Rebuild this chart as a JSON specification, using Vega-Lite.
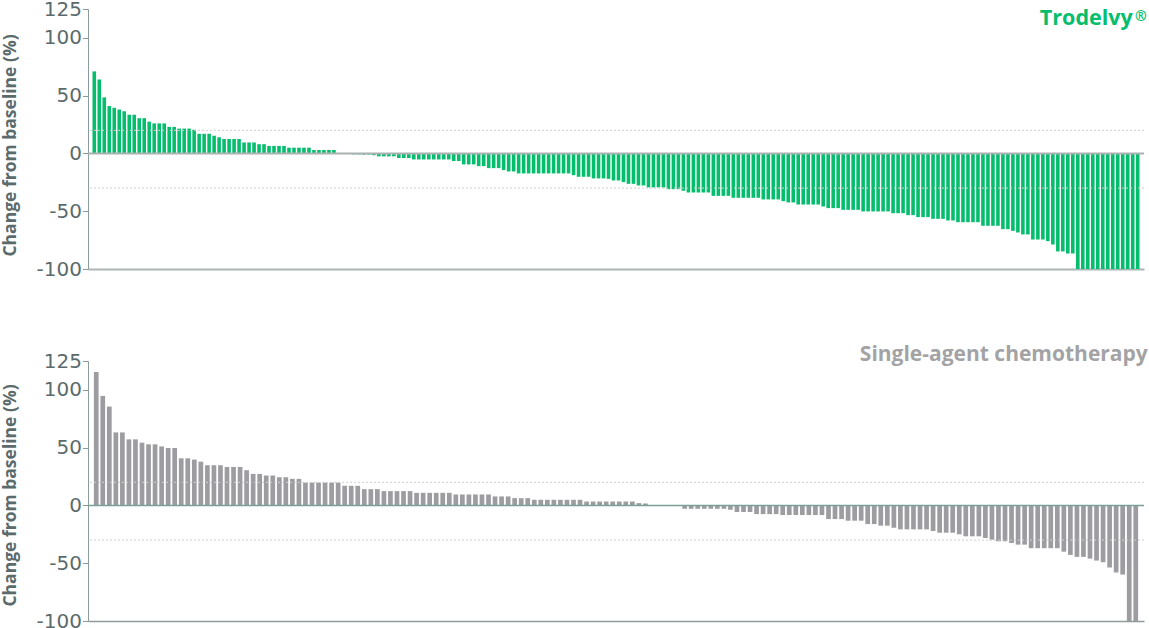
{
  "$schema": "https://vega.github.io/schema/vega-lite/v6.json",
  "padding": {"left": 0, "top": -1, "right": 0, "bottom": 0},
  "background": "white",
  "bounds": "flush",
  "spacing": 92,
  "config": {"view": {"stroke": null}, "font": "Open Sans"},
  "datasets": {
    "trodelvy": [
      {"i":1,"pct":71},{"i":2,"pct":64},{"i":3,"pct":48.5},{"i":4,"pct":41},{"i":5,"pct":39.5},{"i":6,"pct":38},{"i":7,"pct":36.5},{"i":8,"pct":33.5},{"i":9,"pct":33.5},{"i":10,"pct":30.5},
      {"i":11,"pct":30.5},{"i":12,"pct":27.5},{"i":13,"pct":26},{"i":14,"pct":26},{"i":15,"pct":26},{"i":16,"pct":23},{"i":17,"pct":23},{"i":18,"pct":21.5},{"i":19,"pct":21.5},{"i":20,"pct":21.5},
      {"i":21,"pct":20.5},{"i":22,"pct":17},{"i":23,"pct":17},{"i":24,"pct":17},{"i":25,"pct":15.3},{"i":26,"pct":14},{"i":27,"pct":12.5},{"i":28,"pct":12.5},{"i":29,"pct":12.5},{"i":30,"pct":12.5},
      {"i":31,"pct":9.5},{"i":32,"pct":9.5},{"i":33,"pct":9.5},{"i":34,"pct":8},{"i":35,"pct":8},{"i":36,"pct":6.5},{"i":37,"pct":6.5},{"i":38,"pct":6.5},{"i":39,"pct":6.5},{"i":40,"pct":5},
      {"i":41,"pct":5},{"i":42,"pct":5},{"i":43,"pct":5},{"i":44,"pct":5},{"i":45,"pct":3},{"i":46,"pct":3},{"i":47,"pct":3},{"i":48,"pct":3},{"i":49,"pct":3},{"i":50,"pct":0},
      {"i":51,"pct":0},{"i":52,"pct":0},{"i":53,"pct":-0.8},{"i":54,"pct":-0.8},{"i":55,"pct":-1},{"i":56,"pct":-1},{"i":57,"pct":-1.5},{"i":58,"pct":-2.5},{"i":59,"pct":-2.5},{"i":60,"pct":-2.5},
      {"i":61,"pct":-2.5},{"i":62,"pct":-4},{"i":63,"pct":-4},{"i":64,"pct":-4},{"i":65,"pct":-5.2},{"i":66,"pct":-5.2},{"i":67,"pct":-5.2},{"i":68,"pct":-5.2},{"i":69,"pct":-5.2},{"i":70,"pct":-5.2},
      {"i":71,"pct":-5.2},{"i":72,"pct":-5.2},{"i":73,"pct":-6.6},{"i":74,"pct":-6.6},{"i":75,"pct":-9.5},{"i":76,"pct":-9.5},{"i":77,"pct":-9.5},{"i":78,"pct":-11},{"i":79,"pct":-11},{"i":80,"pct":-12.7},
      {"i":81,"pct":-12.7},{"i":82,"pct":-12.7},{"i":83,"pct":-14.4},{"i":84,"pct":-15.6},{"i":85,"pct":-15.6},{"i":86,"pct":-17.3},{"i":87,"pct":-17.3},{"i":88,"pct":-17.3},{"i":89,"pct":-17.3},{"i":90,"pct":-17.3},
      {"i":91,"pct":-17.3},{"i":92,"pct":-17.3},{"i":93,"pct":-17.3},{"i":94,"pct":-17.3},{"i":95,"pct":-17.3},{"i":96,"pct":-17.3},{"i":97,"pct":-18.8},{"i":98,"pct":-20.2},{"i":99,"pct":-20.2},{"i":100,"pct":-20.2},
      {"i":101,"pct":-21.6},{"i":102,"pct":-21.6},{"i":103,"pct":-21.6},{"i":104,"pct":-22},{"i":105,"pct":-23.4},{"i":106,"pct":-23.4},{"i":107,"pct":-24.8},{"i":108,"pct":-26.3},{"i":109,"pct":-26.3},{"i":110,"pct":-27.7},
      {"i":111,"pct":-27.7},{"i":112,"pct":-29.4},{"i":113,"pct":-29.4},{"i":114,"pct":-29.4},{"i":115,"pct":-29.4},{"i":116,"pct":-30.9},{"i":117,"pct":-30.9},{"i":118,"pct":-30.9},{"i":119,"pct":-32.3},{"i":120,"pct":-33.8},
      {"i":121,"pct":-33.8},{"i":122,"pct":-33.8},{"i":123,"pct":-33.8},{"i":124,"pct":-33.8},{"i":125,"pct":-36.7},{"i":126,"pct":-36.7},{"i":127,"pct":-36.7},{"i":128,"pct":-36.7},{"i":129,"pct":-38.4},{"i":130,"pct":-38.4},
      {"i":131,"pct":-38.4},{"i":132,"pct":-38.4},{"i":133,"pct":-38.4},{"i":134,"pct":-38.4},{"i":135,"pct":-39.8},{"i":136,"pct":-39.8},{"i":137,"pct":-39.8},{"i":138,"pct":-39.8},{"i":139,"pct":-41.3},{"i":140,"pct":-42.4},
      {"i":141,"pct":-42.4},{"i":142,"pct":-44.2},{"i":143,"pct":-44.2},{"i":144,"pct":-44.2},{"i":145,"pct":-44.2},{"i":146,"pct":-44.2},{"i":147,"pct":-45.9},{"i":148,"pct":-47.3},{"i":149,"pct":-47.3},{"i":150,"pct":-47.3},
      {"i":151,"pct":-48.8},{"i":152,"pct":-48.8},{"i":153,"pct":-48.8},{"i":154,"pct":-48.8},{"i":155,"pct":-50.2},{"i":156,"pct":-50.2},{"i":157,"pct":-50.2},{"i":158,"pct":-50.2},{"i":159,"pct":-50.2},{"i":160,"pct":-50.2},
      {"i":161,"pct":-51.7},{"i":162,"pct":-51.7},{"i":163,"pct":-51.7},{"i":164,"pct":-53.4},{"i":165,"pct":-53.4},{"i":166,"pct":-55.1},{"i":167,"pct":-55.1},{"i":168,"pct":-55.1},{"i":169,"pct":-56.6},{"i":170,"pct":-56.6},
      {"i":171,"pct":-56.6},{"i":172,"pct":-58},{"i":173,"pct":-58},{"i":174,"pct":-59.5},{"i":175,"pct":-59.5},{"i":176,"pct":-59.5},{"i":177,"pct":-59.5},{"i":178,"pct":-59.5},{"i":179,"pct":-62.6},{"i":180,"pct":-62.6},
      {"i":181,"pct":-62.6},{"i":182,"pct":-62.6},{"i":183,"pct":-65.5},{"i":184,"pct":-65.5},{"i":185,"pct":-67},{"i":186,"pct":-68.4},{"i":187,"pct":-70.1},{"i":188,"pct":-70.1},{"i":189,"pct":-74.5},{"i":190,"pct":-74.5},
      {"i":191,"pct":-74.5},{"i":192,"pct":-75.9},{"i":193,"pct":-78.8},{"i":194,"pct":-84.8},{"i":195,"pct":-84.8},{"i":196,"pct":-86.6},{"i":197,"pct":-86.6},{"i":198,"pct":-100},{"i":199,"pct":-100},{"i":200,"pct":-100},
      {"i":201,"pct":-100},{"i":202,"pct":-100},{"i":203,"pct":-100},{"i":204,"pct":-100},{"i":205,"pct":-100},{"i":206,"pct":-100},{"i":207,"pct":-100},{"i":208,"pct":-100},{"i":209,"pct":-100},{"i":210,"pct":-100}
    ],
    "chemo": [
      {"i":1,"pct":115.5},{"i":2,"pct":94.8},{"i":3,"pct":85.6},{"i":4,"pct":63.2},{"i":5,"pct":63.2},{"i":6,"pct":57.2},{"i":7,"pct":57.2},{"i":8,"pct":54.3},{"i":9,"pct":52.9},{"i":10,"pct":52.9},
      {"i":11,"pct":51.1},{"i":12,"pct":49.7},{"i":13,"pct":49.7},{"i":14,"pct":40.8},{"i":15,"pct":40.8},{"i":16,"pct":39.7},{"i":17,"pct":37.9},{"i":18,"pct":34.8},{"i":19,"pct":34.8},{"i":20,"pct":34.8},
      {"i":21,"pct":33.3},{"i":22,"pct":33.3},{"i":23,"pct":33.3},{"i":24,"pct":30.5},{"i":25,"pct":27.3},{"i":26,"pct":27.3},{"i":27,"pct":25.9},{"i":28,"pct":25.9},{"i":29,"pct":24.4},{"i":30,"pct":24.4},
      {"i":31,"pct":23},{"i":32,"pct":23},{"i":33,"pct":19.8},{"i":34,"pct":19.8},{"i":35,"pct":19.8},{"i":36,"pct":19.8},{"i":37,"pct":19.8},{"i":38,"pct":19.8},{"i":39,"pct":17},{"i":40,"pct":17},
      {"i":41,"pct":17},{"i":42,"pct":14.1},{"i":43,"pct":14.1},{"i":44,"pct":14.1},{"i":45,"pct":12.4},{"i":46,"pct":12.4},{"i":47,"pct":12.4},{"i":48,"pct":12.4},{"i":49,"pct":12.4},{"i":50,"pct":10.9},
      {"i":51,"pct":10.9},{"i":52,"pct":10.9},{"i":53,"pct":10.9},{"i":54,"pct":10.9},{"i":55,"pct":10.9},{"i":56,"pct":9.5},{"i":57,"pct":9.5},{"i":58,"pct":9.5},{"i":59,"pct":9.5},{"i":60,"pct":9.5},
      {"i":61,"pct":9.5},{"i":62,"pct":7.8},{"i":63,"pct":7.8},{"i":64,"pct":7.8},{"i":65,"pct":6.3},{"i":66,"pct":6.3},{"i":67,"pct":6.3},{"i":68,"pct":4.9},{"i":69,"pct":4.9},{"i":70,"pct":4.9},
      {"i":71,"pct":4.9},{"i":72,"pct":4.9},{"i":73,"pct":4.9},{"i":74,"pct":4.9},{"i":75,"pct":4.9},{"i":76,"pct":3.4},{"i":77,"pct":3.4},{"i":78,"pct":3.4},{"i":79,"pct":3.4},{"i":80,"pct":3.4},
      {"i":81,"pct":3.4},{"i":82,"pct":3.4},{"i":83,"pct":3.4},{"i":84,"pct":2},{"i":85,"pct":1.7},{"i":86,"pct":0},{"i":87,"pct":0},{"i":88,"pct":0},{"i":89,"pct":0},{"i":90,"pct":-0.5},
      {"i":91,"pct":-2.9},{"i":92,"pct":-2.9},{"i":93,"pct":-2.9},{"i":94,"pct":-2.9},{"i":95,"pct":-2.9},{"i":96,"pct":-2.9},{"i":97,"pct":-2.9},{"i":98,"pct":-3.7},{"i":99,"pct":-5.7},{"i":100,"pct":-5.7},
      {"i":101,"pct":-5.7},{"i":102,"pct":-7.5},{"i":103,"pct":-7.5},{"i":104,"pct":-7.5},{"i":105,"pct":-7.5},{"i":106,"pct":-8.3},{"i":107,"pct":-8.3},{"i":108,"pct":-8.3},{"i":109,"pct":-8.3},{"i":110,"pct":-8.3},
      {"i":111,"pct":-8.3},{"i":112,"pct":-8.3},{"i":113,"pct":-11.8},{"i":114,"pct":-11.8},{"i":115,"pct":-11.8},{"i":116,"pct":-13.2},{"i":117,"pct":-13.2},{"i":118,"pct":-13.2},{"i":119,"pct":-16.1},{"i":120,"pct":-16.1},
      {"i":121,"pct":-17.5},{"i":122,"pct":-17.5},{"i":123,"pct":-19.3},{"i":124,"pct":-20.7},{"i":125,"pct":-20.7},{"i":126,"pct":-20.7},{"i":127,"pct":-20.7},{"i":128,"pct":-20.7},{"i":129,"pct":-22.1},{"i":130,"pct":-23.6},
      {"i":131,"pct":-23.6},{"i":132,"pct":-23.6},{"i":133,"pct":-25},{"i":134,"pct":-26.7},{"i":135,"pct":-26.7},{"i":136,"pct":-26.7},{"i":137,"pct":-28.2},{"i":138,"pct":-29.6},{"i":139,"pct":-31},{"i":140,"pct":-31},
      {"i":141,"pct":-32.5},{"i":142,"pct":-33.9},{"i":143,"pct":-33.9},{"i":144,"pct":-37},{"i":145,"pct":-37},{"i":146,"pct":-37},{"i":147,"pct":-37},{"i":148,"pct":-37},{"i":149,"pct":-40},{"i":150,"pct":-42.8},
      {"i":151,"pct":-44.5},{"i":152,"pct":-44.5},{"i":153,"pct":-46},{"i":154,"pct":-47.7},{"i":155,"pct":-49.1},{"i":156,"pct":-53.7},{"i":157,"pct":-58},{"i":158,"pct":-59.8},{"i":159,"pct":-100},{"i":160,"pct":-100}
    ]
  },
  "vconcat": [
    {
      "width": 1056,
      "height": 260,
      "layer": [
        {
          "data": {"name": "trodelvy"},
          "mark": {"type": "bar", "color": "#05be6d"},
          "encoding": {
            "x": {"field": "i", "type": "ordinal", "scale": {"paddingInner": 0.28, "paddingOuter": 0.9},
                  "axis": {"domain": true, "domainColor": "#a9b6b5", "domainWidth": 2, "ticks": false, "labels": false, "title": null, "grid": false}},
            "y": {"field": "pct", "type": "quantitative", "scale": {"domain": [-100, 125], "nice": false, "zero": false},
                  "axis": {"values": [-100, -50, 0, 50, 100, 125], "grid": false, "domainColor": "#8b9b9b", "domainWidth": 1, "tickColor": "#8b9b9b", "tickSize": 5.5, "tickWidth": 1,
                           "labelExpr": "toString(datum.value)",
                           "labelFont": "DejaVu Sans", "labelFontSize": 20, "labelColor": "#5b6b6c", "labelPadding": 1, "labelOverlap": false, "labelFlush": false,
                           "title": "Change from baseline (%)", "titleFont": "Open Sans", "titleFontSize": 17.5, "titleFontWeight": "bold", "titleColor": "#5b6b6c", "titleX": -69, "titleY": 136}}
          }
        },
        {
          "data": {"values": [{"threshold": 20}, {"threshold": -30}]},
          "mark": {"type": "rule", "color": "#cfcfcf", "strokeWidth": 1, "strokeDash": [2, 2]},
          "encoding": {"y": {"field": "threshold", "type": "quantitative"}}
        },
        {
          "data": {"values": [{"threshold": 0}]},
          "mark": {"type": "rule", "color": "#aab1b1", "strokeWidth": 2},
          "encoding": {"y": {"field": "threshold", "type": "quantitative"}}
        },
        {
          "data": {"values": [{}]},
          "mark": {"type": "text", "text": "Trodelvy", "align": "right", "baseline": "middle", "dx": -5, "font": "Open Sans", "fontWeight": "bold", "fontSize": 21.5, "color": "#05be6d"},
          "encoding": {"x": {"datum": 210, "type": "ordinal"}, "y": {"datum": 116.3, "type": "quantitative"}}
        },
        {
          "data": {"values": [{}]},
          "mark": {"type": "text", "text": "®", "align": "right", "baseline": "top", "dx": 9, "font": "Open Sans", "fontWeight": "bold", "fontSize": 14, "color": "#05be6d"},
          "encoding": {"x": {"datum": 210, "type": "ordinal"}, "y": {"datum": 124.5, "type": "quantitative"}}
        }
      ]
    },
    {
      "width": 1056,
      "height": 260,
      "layer": [
        {
          "data": {"name": "chemo"},
          "mark": {"type": "bar", "color": "#9d9ca1"},
          "encoding": {
            "x": {"field": "i", "type": "ordinal", "scale": {"paddingInner": 0.28, "paddingOuter": 0.9},
                  "axis": {"domain": true, "domainColor": "#8d9c9b", "domainWidth": 1.5, "ticks": false, "labels": false, "title": null, "grid": false}},
            "y": {"field": "pct", "type": "quantitative", "scale": {"domain": [-100, 125], "nice": false, "zero": false},
                  "axis": {"values": [-100, -50, 0, 50, 100, 125], "grid": false, "domainColor": "#8b9b9b", "domainWidth": 1, "tickColor": "#8b9b9b", "tickSize": 5.5, "tickWidth": 1,
                           "labelExpr": "toString(datum.value)",
                           "labelFont": "DejaVu Sans", "labelFontSize": 20, "labelColor": "#5b6b6c", "labelPadding": 1, "labelOverlap": false, "labelFlush": false,
                           "title": "Change from baseline (%)", "titleFont": "Open Sans", "titleFontSize": 17.5, "titleFontWeight": "bold", "titleColor": "#5b6b6c", "titleX": -69, "titleY": 134}}
          }
        },
        {
          "data": {"values": [{"threshold": 20}, {"threshold": -30}]},
          "mark": {"type": "rule", "color": "#cfcfcf", "strokeWidth": 1, "strokeDash": [2, 2]},
          "encoding": {"y": {"field": "threshold", "type": "quantitative"}}
        },
        {
          "data": {"values": [{"threshold": 0}]},
          "mark": {"type": "rule", "color": "#78a096", "strokeWidth": 1.5},
          "encoding": {"y": {"field": "threshold", "type": "quantitative"}}
        },
        {
          "data": {"values": [{}]},
          "mark": {"type": "text", "text": "Single-agent chemotherapy", "align": "right", "baseline": "middle", "dx": 12, "font": "Open Sans", "fontWeight": "bold", "fontSize": 21, "color": "#a3a3a6"},
          "encoding": {"x": {"datum": 160, "type": "ordinal"}, "y": {"datum": 129.8, "type": "quantitative"}}
        }
      ]
    }
  ]
}
